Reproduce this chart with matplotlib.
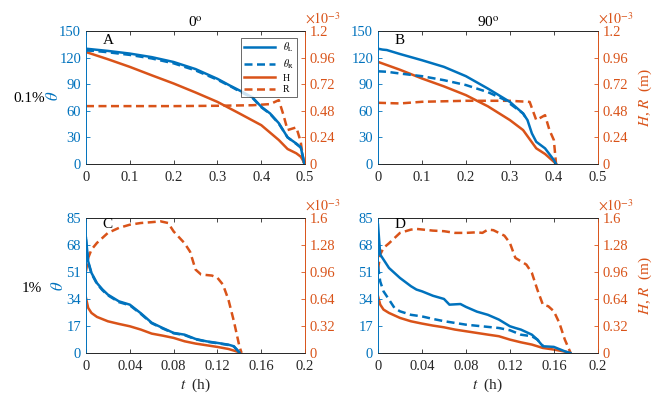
import matplotlib
matplotlib.use("Agg")
import matplotlib.pyplot as plt
import numpy as np

plt.rcParams['font.family'] = ['Liberation Serif', 'DejaVu Serif']
plt.rcParams['mathtext.fontset'] = 'stix'
plt.rcParams['font.size'] = 10

BLUE = '#0072BD'
ORANGE = '#D95319'
GRAY = '#262626'

# ---------------- Panel A (0.1%, 0 deg) ----------------
tA_L = [0, 0.02, 0.05, 0.1, 0.15, 0.2, 0.25, 0.3, 0.33, 0.35, 0.38, 0.4, 0.42, 0.44, 0.46, 0.48, 0.49, 0.495, 0.498]
thA_L = [130, 129, 127.5, 124.5, 120.5, 115, 107, 96, 88, 83, 75, 64.5, 57, 46, 30, 23, 19, 8, 0]
tA_R = [0, 0.02, 0.05, 0.1, 0.15, 0.2, 0.25, 0.3, 0.33, 0.35, 0.38, 0.4, 0.42, 0.44, 0.46, 0.48, 0.49, 0.495, 0.498]
thA_R = [128, 127.5, 126, 123, 119, 113.5, 105.5, 95, 87.5, 82, 74.5, 64, 56.5, 45.5, 30, 22.5, 18.5, 8, 0]
tA_H = [0, 0.05, 0.1, 0.15, 0.2, 0.25, 0.3, 0.35, 0.4, 0.44, 0.46, 0.48, 0.49, 0.5]
HA = [1.01, 0.945, 0.876, 0.80, 0.726, 0.645, 0.56, 0.456, 0.35, 0.216, 0.135, 0.096, 0.066, 0.0]
tA_Rr = [0, 0.1, 0.2, 0.3, 0.38, 0.42, 0.44, 0.45, 0.46, 0.48, 0.49, 0.497]
RA = [0.522, 0.522, 0.522, 0.525, 0.53, 0.54, 0.576, 0.45, 0.306, 0.33, 0.2, 0.0]

# ---------------- Panel B (0.1%, 90 deg) ----------------
tB_L = [0, 0.01, 0.02, 0.05, 0.1, 0.15, 0.2, 0.25, 0.3, 0.33, 0.34, 0.35, 0.36, 0.38, 0.4, 0.405]
thB_L = [130, 129, 128.5, 124, 117, 109.5, 99, 85, 70, 57, 49.5, 34.5, 25, 17.6, 4.5, 0]
tB_R = [0, 0.02, 0.05, 0.1, 0.15, 0.2, 0.25, 0.29, 0.3, 0.33, 0.335]
thB_R = [104.5, 104, 102, 99, 94.5, 89, 81, 72, 68, 57, 53]
tB_H = [0, 0.05, 0.1, 0.15, 0.2, 0.25, 0.3, 0.33, 0.36, 0.38, 0.4, 0.405]
HB = [0.921, 0.85, 0.771, 0.70, 0.621, 0.52, 0.396, 0.306, 0.141, 0.09, 0.02, 0.0]
tB_Rr = [0, 0.05, 0.1, 0.2, 0.3, 0.345, 0.36, 0.38, 0.39, 0.4, 0.405]
RB = [0.552, 0.546, 0.561, 0.57, 0.57, 0.56, 0.396, 0.44, 0.306, 0.216, 0.0]

# ---------------- Panel C (1%, 0 deg) ----------------
tC_L = [0, 0.002, 0.005, 0.01, 0.015, 0.02, 0.03, 0.04, 0.05, 0.06, 0.07, 0.08, 0.09, 0.1, 0.11, 0.12, 0.13, 0.135, 0.14]
thC_L = [72.4, 57.7, 50.4, 44, 40, 36.7, 32.5, 30.4, 25, 19, 15.7, 12.6, 11.5, 8.8, 7.3, 6.3, 5.2, 4.2, 0.4]
tC_R = [0, 0.002, 0.005, 0.01, 0.015, 0.02, 0.03, 0.04, 0.05, 0.06, 0.07, 0.08, 0.09, 0.1, 0.11, 0.12, 0.13, 0.135, 0.14]
thC_R = [71.5, 57, 50, 43.5, 39.5, 36.3, 32, 30, 24.6, 18.7, 15.4, 12.4, 11.2, 8.6, 7.1, 6.1, 5.0, 4.0, 0.3]
tC_H = [0, 0.002, 0.005, 0.01, 0.02, 0.03, 0.04, 0.05, 0.06, 0.07, 0.08, 0.09, 0.1, 0.11, 0.12, 0.13, 0.14]
HC = [0.652, 0.534, 0.474, 0.427, 0.375, 0.344, 0.316, 0.277, 0.229, 0.205, 0.178, 0.138, 0.111, 0.091, 0.071, 0.047, 0.008]
tC_Rr = [0, 0.002, 0.005, 0.01, 0.02, 0.03, 0.04, 0.05, 0.06, 0.068, 0.075, 0.08, 0.09, 0.095, 0.1, 0.105, 0.115, 0.12, 0.125, 0.13, 0.135, 0.14, 0.142]
RC = [0.968, 1.126, 1.225, 1.304, 1.423, 1.482, 1.52, 1.54, 1.55, 1.56, 1.54, 1.44, 1.30, 1.2, 0.988, 0.93, 0.917, 0.89, 0.81, 0.632, 0.375, 0.08, 0.0]

# ---------------- Panel D (1%, 90 deg) ----------------
tD_L = [0, 0.002, 0.005, 0.01, 0.02, 0.03, 0.035, 0.04, 0.05, 0.06, 0.065, 0.075, 0.08, 0.09, 0.1, 0.11, 0.12, 0.125, 0.13, 0.14, 0.145, 0.15, 0.16, 0.17, 0.175]
thD_L = [80.8, 62, 58.8, 53.5, 47.2, 42, 39.9, 38.8, 36, 34, 30.4, 30.8, 29, 26, 24, 21, 16.8, 15.7, 14.7, 11.5, 8.4, 4.2, 3.8, 1, 0]
tD_R = [0, 0.002, 0.005, 0.01, 0.015, 0.02, 0.03, 0.04, 0.05, 0.06, 0.08, 0.1, 0.11, 0.12, 0.13, 0.14, 0.145, 0.15]
thD_R = [54.6, 45, 38.8, 33.6, 28.3, 26.2, 24, 23, 21.4, 20, 17.8, 16.4, 15.7, 14.3, 11.5, 10.5, 8.4, 4.6]
tD_H = [0, 0.002, 0.005, 0.01, 0.02, 0.03, 0.04, 0.05, 0.06, 0.07, 0.08, 0.09, 0.1, 0.11, 0.12, 0.13, 0.14, 0.15, 0.16, 0.17, 0.175]
HD = [0.672, 0.573, 0.514, 0.474, 0.415, 0.375, 0.348, 0.324, 0.304, 0.277, 0.257, 0.237, 0.217, 0.198, 0.158, 0.126, 0.099, 0.059, 0.04, 0.016, 0.0]
tD_Rr = [0, 0.002, 0.005, 0.01, 0.02, 0.03, 0.035, 0.05, 0.06, 0.07, 0.08, 0.09, 0.095, 0.1, 0.105, 0.115, 0.12, 0.125, 0.13, 0.135, 0.14, 0.145, 0.15, 0.155, 0.16, 0.165, 0.17, 0.175]
RD = [0.988, 1.166, 1.245, 1.30, 1.423, 1.462, 1.47, 1.45, 1.443, 1.423, 1.423, 1.43, 1.423, 1.462, 1.455, 1.39, 1.304, 1.126, 1.087, 1.047, 0.949, 0.75, 0.573, 0.553, 0.494, 0.356, 0.158, 0.008]

panels = [
    dict(pos=[0.1295, 0.587, 0.330, 0.335], L=(tA_L, thA_L), R=(tA_R, thA_R), H=(tA_H, HA), Rr=(tA_Rr, RA),
         xlim=0.5, xt=[0, 0.1, 0.2, 0.3, 0.4, 0.5], xtl=['0', '0.1', '0.2', '0.3', '0.4', '0.5'],
         ylim=150, yt=[0, 30, 60, 90, 120, 150], rlim=1.2, rt=[0, 0.24, 0.48, 0.72, 0.96, 1.2],
         rtl=['0', '0.24', '0.48', '0.72', '0.96', '1.2'], letter='A', ly=0.925, title='0$^\\mathrm{o}$', rlabel=False, xlabel=False, legend=True),
    dict(pos=[0.5693, 0.587, 0.331, 0.335], L=(tB_L, thB_L), R=(tB_R, thB_R), H=(tB_H, HB), Rr=(tB_Rr, RB),
         xlim=0.5, xt=[0, 0.1, 0.2, 0.3, 0.4, 0.5], xtl=['0', '0.1', '0.2', '0.3', '0.4', '0.5'],
         ylim=150, yt=[0, 30, 60, 90, 120, 150], rlim=1.2, rt=[0, 0.24, 0.48, 0.72, 0.96, 1.2],
         rtl=['0', '0.24', '0.48', '0.72', '0.96', '1.2'], letter='B', ly=0.925, title='90$^\\mathrm{o}$', rlabel=True, xlabel=False, legend=False),
    dict(pos=[0.1295, 0.111, 0.330, 0.340], L=(tC_L, thC_L), R=(tC_R, thC_R), H=(tC_H, HC), Rr=(tC_Rr, RC),
         xlim=0.2, xt=[0, 0.04, 0.08, 0.12, 0.16, 0.2], xtl=['0', '0.04', '0.08', '0.12', '0.16', '0.2'],
         ylim=85, yt=[0, 17, 34, 51, 68, 85], rlim=1.6, rt=[0, 0.32, 0.64, 0.96, 1.28, 1.6],
         rtl=['0', '0.32', '0.64', '0.96', '1.28', '1.6'], letter='C', ly=0.955, title=None, rlabel=False, xlabel=True, legend=False),
    dict(pos=[0.5693, 0.111, 0.331, 0.340], L=(tD_L, thD_L), R=(tD_R, thD_R), H=(tD_H, HD), Rr=(tD_Rr, RD),
         xlim=0.2, xt=[0, 0.04, 0.08, 0.12, 0.16, 0.2], xtl=['0', '0.04', '0.08', '0.12', '0.16', '0.2'],
         ylim=85, yt=[0, 17, 34, 51, 68, 85], rlim=1.6, rt=[0, 0.32, 0.64, 0.96, 1.28, 1.6],
         rtl=['0', '0.32', '0.64', '0.96', '1.28', '1.6'], letter='D', ly=0.955, title=None, rlabel=True, xlabel=True, legend=False),
]

fig = plt.figure(figsize=(6.64, 3.97), dpi=100)

for p in panels:
    ax = fig.add_axes(p['pos'])
    ax2 = ax.twinx()
    ax.set_zorder(ax2.get_zorder() + 1)
    ax.patch.set_visible(False)
    lw = 1.8
    l1, = ax.plot(*p['L'], color=BLUE, lw=lw, label=r'$\theta_\mathrm{L}$')
    l2, = ax.plot(*p['R'], color=BLUE, lw=lw, ls=(0, (3.2, 1.8)), label=r'$\theta_\mathrm{R}$')
    l3, = ax2.plot(*p['H'], color=ORANGE, lw=lw, label='H')
    l4, = ax2.plot(*p['Rr'], color=ORANGE, lw=lw, ls=(0, (3.2, 1.8)), label='R')
    ax.set_xlim(0, p['xlim'])
    ax.set_ylim(0, p['ylim'])
    ax2.set_ylim(0, p['rlim'])
    ax.set_xticks(p['xt'])
    ax.set_xticklabels(p['xtl'])
    ax.set_yticks(p['yt'])
    ax2.set_yticks(p['rt'])
    ax2.set_yticklabels(p['rtl'])
    ax.tick_params(axis='x', direction='in', top=True, colors=GRAY, labelsize=10.5, length=3, width=0.6, pad=5)
    ax.tick_params(axis='y', direction='in', colors=BLUE, labelsize=10.5, length=3, width=0.6)
    ax2.tick_params(axis='y', direction='in', colors=ORANGE, labelsize=10.5, length=3, width=0.6)
    for a in (ax, ax2):
        a.spines['top'].set_color(GRAY)
        a.spines['bottom'].set_color(GRAY)
        a.spines['left'].set_color(BLUE)
        a.spines['right'].set_color(ORANGE)
        for s in a.spines.values():
            s.set_linewidth(0.6)
    ax.text(0.10, p['ly'], p['letter'], transform=ax.transAxes, fontsize=11, ha='center', va='center', color='black')
    if p['title']:
        ax.set_title(p['title'], fontsize=11, pad=3, color='black')
    ax.text(1.0, 1.03, r'$\times10^{-3}$', transform=ax.transAxes, color=ORANGE, fontsize=10, ha='left', va='bottom')
    if p['rlabel']:
        ax2.set_ylabel(r'$H$, $R$  (m)', color=ORANGE, fontsize=11, labelpad=6)
    if p['xlabel']:
        ax.set_xlabel(r'$t$  (h)', fontsize=11, color=GRAY, labelpad=3)
    if p['legend']:
        leg = ax.legend(handles=[l1, l2, l3, l4], loc='upper right', fontsize=7, frameon=True, fancybox=False,
                        edgecolor=GRAY, handlelength=3.2, borderpad=0.3, labelspacing=0.3,
                        bbox_to_anchor=(0.985, 0.985))
        leg.get_frame().set_linewidth(0.6)

# row labels
fig.text(13 / 664, 1 - 98 / 397, '0.1%', fontsize=11, ha='left', va='center')
fig.text(54 / 664, 1 - 96 / 397, r'$\theta$', fontsize=12, color=BLUE, ha='center', va='center', rotation=90)
fig.text(22 / 664, 1 - 288 / 397, '1%', fontsize=11, ha='left', va='center')
fig.text(59 / 664, 1 - 286 / 397, r'$\theta$', fontsize=12, color=BLUE, ha='center', va='center', rotation=90)

fig.savefig('out.png', dpi=100)
